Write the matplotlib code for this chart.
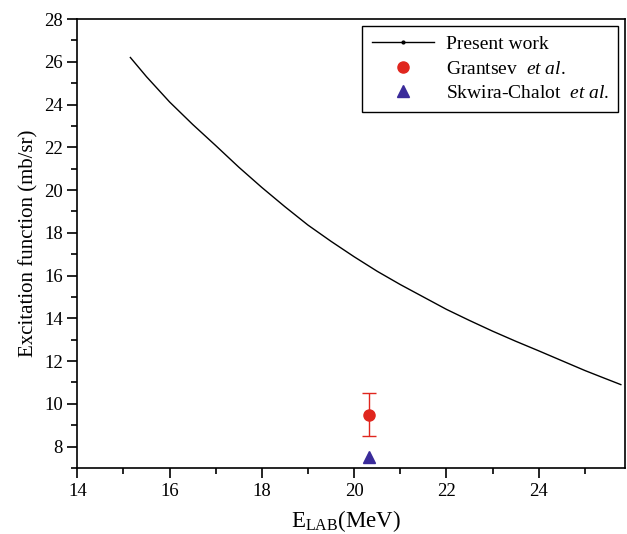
import matplotlib
matplotlib.use("Agg")
import matplotlib.pyplot as plt
from matplotlib.ticker import MultipleLocator
from matplotlib.lines import Line2D

# curve
energy = [15.15, 15.5, 16.0, 16.5, 17.0, 17.5, 18.0, 18.5, 19.0, 19.5, 20.0,
          20.5, 21.0, 21.5, 22.0, 22.5, 23.0, 23.5, 24.0, 24.5, 25.0, 25.4, 25.78]
excitation = [26.2, 25.3, 24.12, 23.07, 22.08, 21.07, 20.12, 19.22, 18.36, 17.6, 16.88,
              16.2, 15.58, 15.0, 14.42, 13.9, 13.4, 12.93, 12.48, 12.02, 11.56, 11.22, 10.9]

# experimental points
grantsev_x = [20.33]
grantsev_y = [9.5]
grantsev_err = [1.0]
skwira_x = [20.33]
skwira_y = [7.5]

red = '#e0261e'
blue = '#3a2b9a'

plt.rcParams['font.family'] = ['Liberation Serif', 'DejaVu Serif']
plt.rcParams['mathtext.fontset'] = 'custom'
plt.rcParams['mathtext.rm'] = 'Liberation Serif'
plt.rcParams['mathtext.it'] = 'Liberation Serif:italic'

fig = plt.figure(figsize=(6.27, 5.34), dpi=100)
ax = fig.add_axes([0.1233, 0.1236, 0.8735, 0.8408])

ax.plot(energy, excitation, color='black', lw=1.0)
ax.errorbar(grantsev_x, grantsev_y, yerr=grantsev_err, fmt='o', color=red,
            ecolor=red, markersize=8, capsize=5, elinewidth=1, capthick=1)
ax.plot(skwira_x, skwira_y, '^', color=blue, markersize=8, linestyle='none')

ax.set_xlim(14, 25.87)
ax.set_ylim(7, 28)
ax.xaxis.set_major_locator(MultipleLocator(2))
ax.xaxis.set_minor_locator(MultipleLocator(1))
ax.yaxis.set_major_locator(MultipleLocator(2))
ax.yaxis.set_minor_locator(MultipleLocator(1))
ax.tick_params(which='both', direction='out', top=False, right=False, labelsize=13.5, width=1.2)
ax.tick_params(which='major', length=7)
ax.tick_params(which='minor', length=4)
for s in ax.spines.values():
    s.set_linewidth(1.2)

ax.set_ylabel('Excitation function (mb/sr)', fontsize=15)
ax.set_xlabel(r'E$_{\rm LAB}$(MeV)', fontsize=16.5)
ax.xaxis.set_label_coords(0.49, -0.09)

# legend entries
handles = [
    Line2D([], [], color='black', lw=1.0, marker='o', markersize=2),
    Line2D([], [], color=red, marker='o', markersize=8, linestyle='none'),
    Line2D([], [], color=blue, marker='^', markersize=8, linestyle='none'),
]
labels = ['Present work', r'Grantsev  $\it{et\ al.}$', r'Skwira-Chalot  $\it{et\ al.}$']
leg = ax.legend(handles, labels, loc='upper right', fontsize=14, frameon=True,
                fancybox=False, edgecolor='black', framealpha=1,
                borderaxespad=0.35, handlelength=3.2, labelspacing=0.35,
                borderpad=0.5, handletextpad=0.6)
leg.get_frame().set_linewidth(1.0)

fig.savefig('out.png', dpi=100)
